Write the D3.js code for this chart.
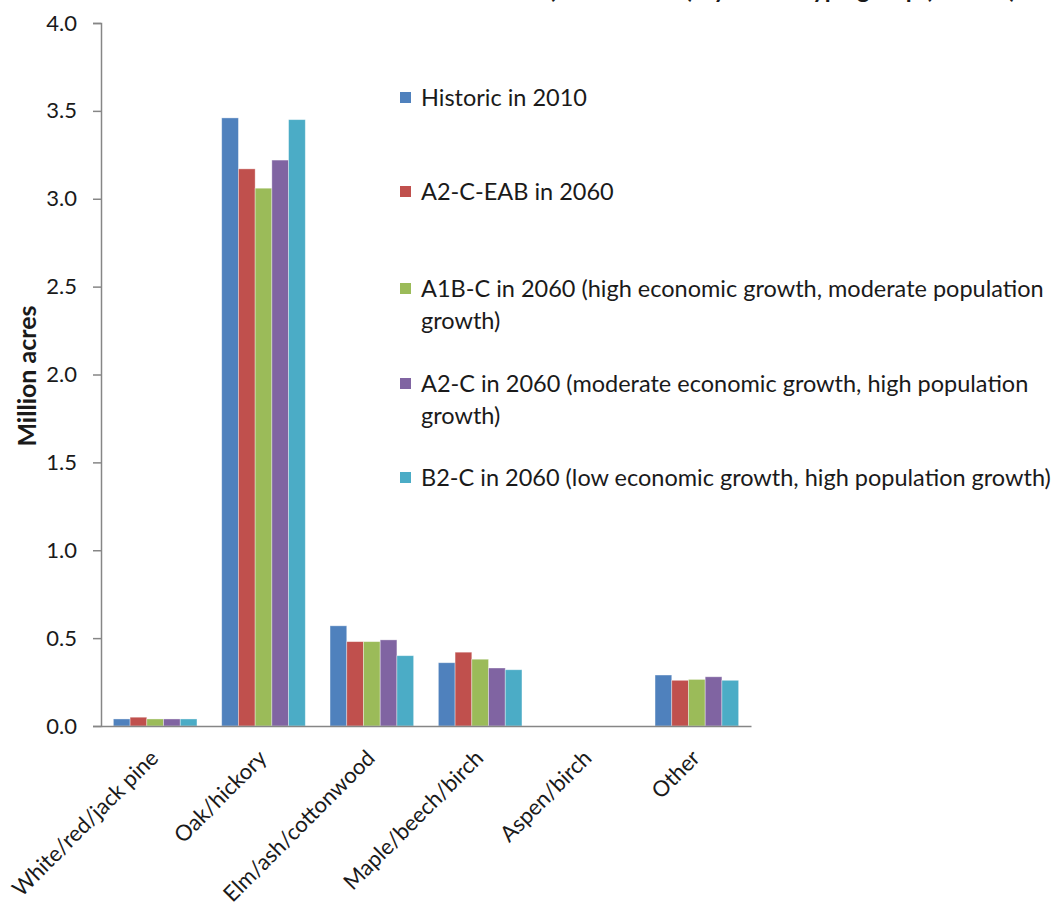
<!DOCTYPE html>
<html>
<head>
<meta charset="utf-8">
<script src="https://cdn.jsdelivr.net/npm/d3@7"></script>
<style>
  body { margin: 0; background: #fff; }
  svg { display: block; }
  text { font-family: Lato, "Open Sans", sans-serif; fill: #1a1a1a; }
</style>
</head>
<body>
<div id="chart"></div>
<script>
const categories = ["White/red/jack pine", "Oak/hickory", "Elm/ash/cottonwood", "Maple/beech/birch", "Aspen/birch", "Other"];
const seriesNames = ["Historic in 2010", "A2-C-EAB in 2060", "A1B-C in 2060", "A2-C in 2060", "B2-C in 2060"];
const legendLines = [
    ["Historic in 2010"],
    ["A2-C-EAB in 2060"],
    ["A1B-C in 2060 (high economic growth, moderate population", "growth)"],
    ["A2-C in 2060 (moderate economic growth, high population", "growth)"],
    ["B2-C in 2060 (low economic growth, high population growth)"]
];
const historic2010 = [0.04, 3.46, 0.57, 0.36, 0, 0.29];
const a2cEab2060   = [0.05, 3.17, 0.48, 0.42, 0, 0.26];
const a1bc2060     = [0.04, 3.06, 0.48, 0.38, 0, 0.265];
const a2c2060      = [0.04, 3.22, 0.49, 0.33, 0, 0.28];
const b2c2060      = [0.04, 3.45, 0.40, 0.32, 0, 0.26];
const yTicks = [0, 0.5, 1.0, 1.5, 2.0, 2.5, 3.0, 3.5, 4.0];
const colors = ["#4F81BD", "#C0504D", "#9BBB59", "#8064A2", "#4BACC6"];

const seriesValues = [historic2010, a2cEab2060, a1bc2060, a2c2060, b2c2060];

const width = 1060, height = 904;
const svg = d3.select("#chart").append("svg")
    .attr("width", width).attr("height", height);

// title is cut off at the top of the picture, only descenders show
svg.append("text")
    .attr("x", 720).attr("y", -2)
    .attr("text-anchor", "middle")
    .style("font-size", "24px").style("font-weight", "bold")
    .text("Forest area (million acres) by forest-type group (Indiana)");

const x = d3.scaleBand().domain(categories).range([101, 751]).paddingInner(0).paddingOuter(0);
const xs = d3.scaleBand().domain(seriesNames).range([0, x.bandwidth()]).paddingOuter(0.74);
const y = d3.scaleLinear().domain([0, 4]).range([726, 23]);

// bars
const groups = svg.append("g").selectAll("g")
    .data(categories).join("g")
    .attr("transform", d => `translate(${x(d)},0)`);

groups.selectAll("rect")
    .data((c, i) => seriesNames.map((s, k) => ({ s, k, v: seriesValues[k][i] })))
    .join("rect")
    .attr("x", d => xs(d.s))
    .attr("width", xs.bandwidth())
    .attr("y", d => y(d.v))
    .attr("height", d => y(0) - y(d.v))
    .attr("fill", d => colors[d.k])
    .attr("stroke", "rgba(255,255,255,0.45)")
    .attr("stroke-width", 0.8);

// y axis
const yAxis = svg.append("g")
    .attr("transform", "translate(101,0)")
    .call(d3.axisLeft(y).tickValues(yTicks).tickFormat(d3.format(".1f")).tickSize(8).tickPadding(16));
yAxis.select(".domain").attr("stroke", "#868686").attr("stroke-width", 1.5);
yAxis.selectAll(".tick line").attr("stroke", "#868686").attr("stroke-width", 1.5);
yAxis.selectAll(".tick text").style("font-size", "22px").style("font-family", "Lato, sans-serif").attr("fill", "#1a1a1a");

// x axis
const xAxis = svg.append("g")
    .attr("transform", `translate(0,${y(0)})`)
    .call(d3.axisBottom(x).tickSize(0).tickPadding(0));
xAxis.select(".domain").attr("stroke", "#868686").attr("stroke-width", 1.5);
xAxis.selectAll(".tick text")
    .style("font-size", "22px").style("font-family", "Lato, sans-serif").attr("fill", "#1a1a1a")
    .attr("text-anchor", "end")
    .attr("dy", "0.35em")
    .attr("transform", "translate(-1,28) rotate(-45)");

// y title
svg.append("text")
    .attr("transform", "translate(27,376) rotate(-90)")
    .attr("text-anchor", "middle")
    .attr("dy", "0.35em")
    .style("font-size", "25px").style("font-weight", "bold")
    .text("Million acres");

// legend
const legendY = [98, 192, 289, 384, 478];
const legend = svg.append("g").selectAll("g")
    .data(seriesNames).join("g")
    .attr("transform", (d, i) => `translate(400,${legendY[i]})`);

legend.append("rect")
    .attr("x", 0).attr("y", -6).attr("width", 11).attr("height", 11)
    .attr("fill", (d, i) => colors[i]);

legend.append("text")
    .attr("x", 21)
    .style("font-size", "23.5px")
    .selectAll("tspan")
    .data((d, i) => legendLines[i])
    .join("tspan")
    .attr("x", 21)
    .attr("y", (d, j) => j * 32)
    .attr("dy", "0.35em")
    .text(d => d);
</script>
</body>
</html>
